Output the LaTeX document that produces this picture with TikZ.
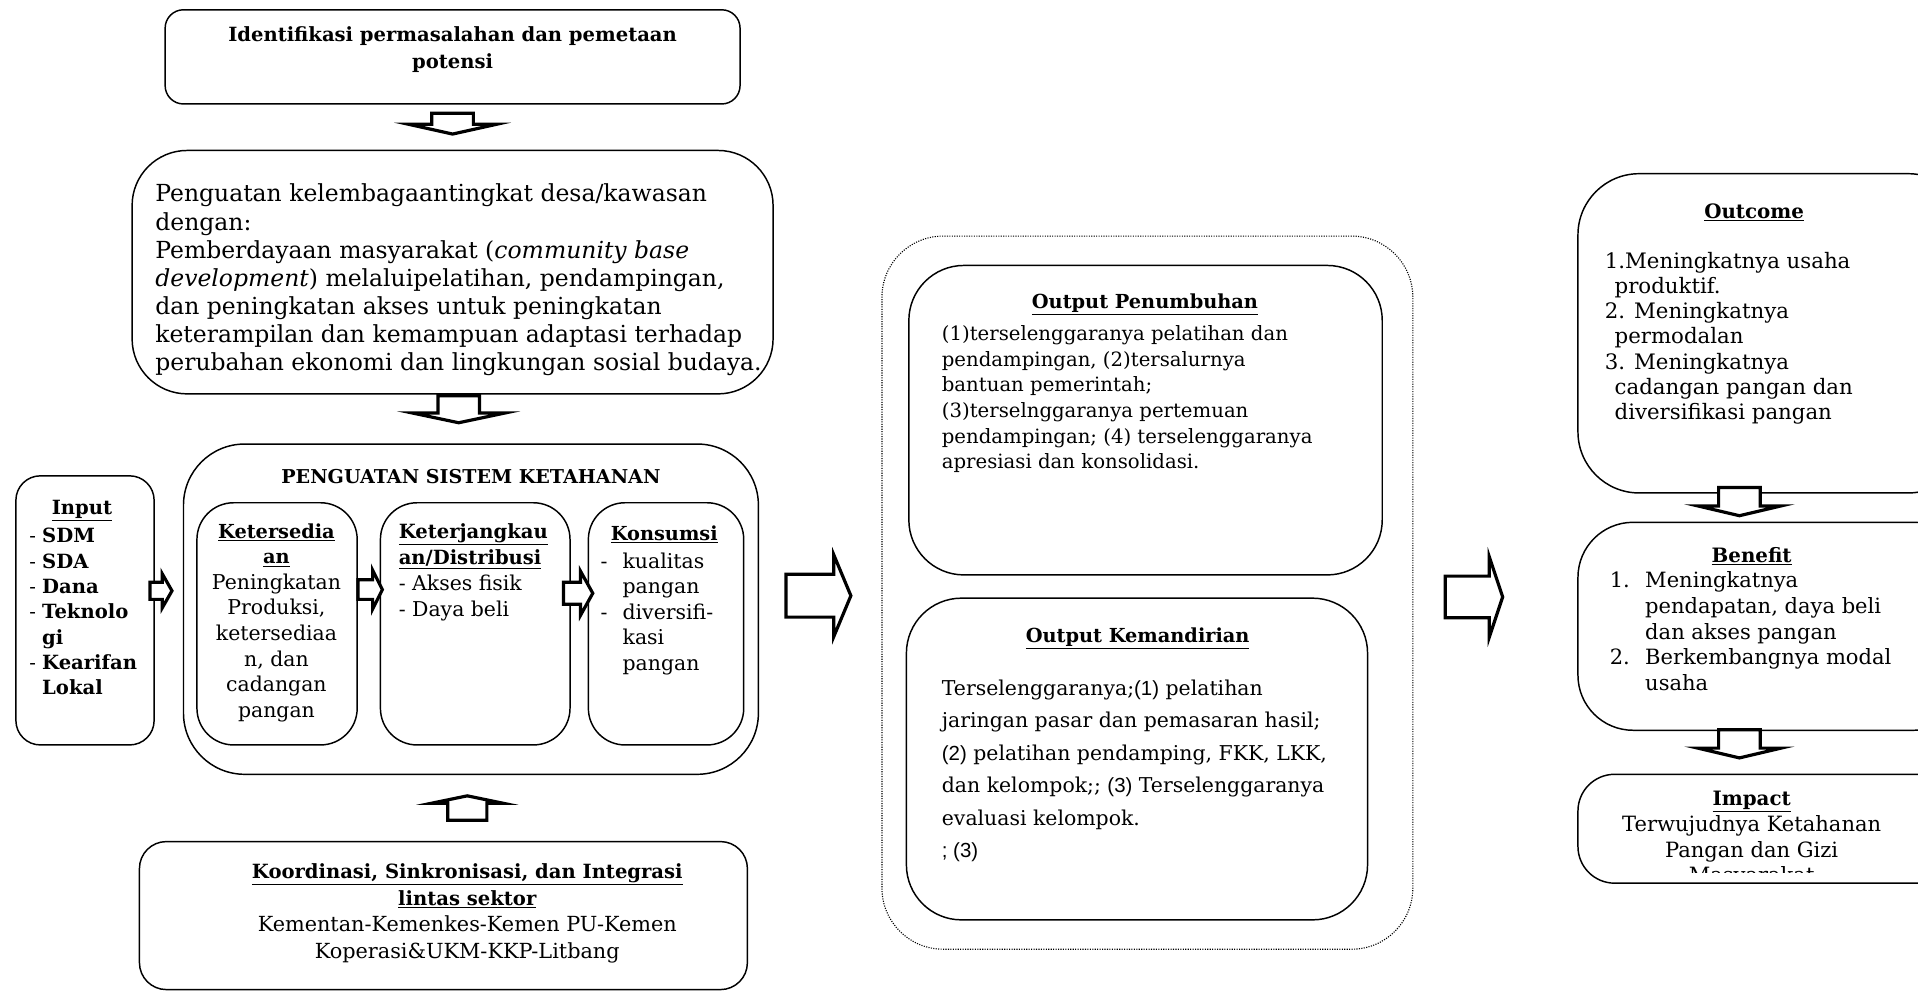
\documentclass[tikz,border=0pt]{standalone}
\usepackage{fontspec}
\setmainfont{DejaVu Serif}
\newfontfamily\sansx{Liberation Sans}
\usetikzlibrary{calc}
\newcommand\fsz[2]{\fontsize{#1}{#2}\selectfont}
\newcommand\ulb[1]{\textbf{\underline{#1}}}
% down block arrow: #1 top-centre coordinate, #2 stem half width, #3 stem height, #4 wing half width, #5 head height
\newcommand\darr[5]{\draw[blk] ([shift={({-#2},0)}]#1) -- ++(0,#3) -- ++({-(#4-#2)},0) -- ++(#4,#5) -- ++(#4,{-(#5)}) -- ++({-(#4-#2)},0) -- ++(0,{-(#3)}) -- cycle;}
% up block arrow: #1 tip coordinate
\newcommand\uarr[5]{\draw[blk] (#1) -- ++({-(#4)},#5) -- ++({#4-#2},0) -- ++(0,#3) -- ++({2*#2},0) -- ++(0,{-(#3)}) -- ++({#4-#2},0) -- cycle;}
% right block arrow: #1 left-centre coordinate, #2 stem half height, #3 stem length, #4 head half height, #5 head length
\newcommand\rarr[5]{\draw[blk] ([shift={(0,{-(#2)})}]#1) -- ++(#3,0) -- ++(0,{-(#4-#2)}) -- ++(#5,#4) -- ++({-(#5)},#4) -- ++(0,{-(#4-#2)}) -- ++({-(#3)},0) -- cycle;}
% box node from corners
\newcommand\boxat[7][]{\node[box,rounded corners=#7,minimum width={#5-#3},minimum height={#6-#4},#1] (#2) at ({(#3+#5)/2},{(#4+#6)/2}) {};}
\begin{document}
\begin{tikzpicture}[x=1pt,y=-1pt,
  box/.style={draw,line width=1.2pt,inner sep=0pt,fill=none},
  blk/.style={draw,line width=2.6pt,line join=miter,fill=white},
  txt/.style={inner sep=0pt,outer sep=0pt}]
\clip (0,0) rectangle (1568,811);
\fill[white] (0,0) rectangle (1568,811);

% ---------- boxes ----------
\boxat{ident}{135}{8}{605}{85}{15}
\boxat{peng}{108}{123}{632}{322}{45}
\boxat{sys}{150}{363}{620}{633}{50}
\boxat{input}{13}{389}{126}{609}{20}
\boxat{kers}{161}{411}{292}{609}{30}
\boxat{kj}{311}{411}{466}{609}{30}
\boxat{kon}{481}{411}{608}{609}{30}
\boxat{koord}{114}{688}{611}{809}{22}
\boxat[dash pattern=on 0.9pt off 1.1pt,line width=0.9pt]{wrap}{721}{193}{1155}{776}{50}
\boxat{pen}{743}{217}{1130}{470}{45}
\boxat{kem}{741}{489}{1118}{752}{45}
\boxat{outc}{1290}{142}{1610}{403}{50}
\boxat{ben}{1290}{427}{1610}{597}{45}
\boxat{imp}{1290}{633}{1610}{722}{30}

% ---------- texts ----------
\node[txt,anchor=north,align=center,font=\fsz{16}{22}\bfseries] (identT) at (370,22)
  {Identifikasi permasalahan dan pemetaan\\potensi};

\node[txt,anchor=north west,align=left,font=\fsz{19.2}{23}] (pengT) at (127,150.5)
  {Penguatan kelembagaantingkat desa/kawasan\\dengan:\\Pemberdayaan masyarakat (\textit{community base}\\\textit{development}) melaluipelatihan, pendampingan,\\dan peningkatan akses untuk peningkatan\\keterampilan dan kemampuan adaptasi terhadap\\perubahan ekonomi dan lingkungan sosial budaya.};

\node[txt,anchor=base,font=\fsz{15.6}{20}\bfseries] (sysT) at (385,395.5) {PENGUATAN SISTEM KETAHANAN};

\node[txt,anchor=base,font=\fsz{16}{20}] (inputT) at (67,420.5) {\ulb{Input}};
\node[txt,anchor=north west,align=left,font=\fsz{16}{20.7}] (inputL) at (24,432)
  {- \textbf{SDM}\\- \textbf{SDA}\\- \textbf{Dana}\\- \textbf{Teknolo}\\\phantom{-\ }\textbf{gi}\\- \textbf{Kearifan}\\\phantom{-\ }\textbf{Lokal}};

\node[txt,anchor=north,align=center,font=\fsz{16.7}{20.9}] (kersT) at (226,428)
  {{\fsz{15.8}{20.9}\ulb{Ketersedia}}\\{\fsz{15.8}{20.9}\ulb{an}}\\Peningkatan\\Produksi,\\ketersediaa\\n, dan\\cadangan\\pangan};

\node[txt,anchor=north west,align=left,font=\fsz{16.7}{21.3}] (kjT) at (326,428)
  {{\fsz{16}{21.3}\ulb{Keterjangkau}}\\{\fsz{16}{21.3}\ulb{an/Distribusi}}\\- Akses fisik\\- Daya beli};

\node[txt,anchor=base,font=\fsz{15.8}{20}] (konT) at (543,441.5) {\ulb{Konsumsi}};
\node[txt,anchor=north west,align=left,font=\fsz{16.7}{20.8}] (konL) at (491,452)
  {\makebox[18pt][l]{-}kualitas\\\hspace*{18pt}pangan\\\makebox[18pt][l]{-}diversifi-\\\hspace*{18pt}kasi\\\hspace*{18pt}pangan};

\node[txt,anchor=north,align=center,font=\fsz{17}{21.7}] (koordT) at (382,706)
  {{\fsz{16}{21.7}\ulb{Koordinasi, Sinkronisasi, dan Integrasi}}\\{\fsz{16}{21.7}\ulb{lintas sektor}}\\Kementan-Kemenkes-Kemen PU-Kemen\\Koperasi\&UKM-KKP-Litbang};

\node[txt,anchor=base,font=\fsz{15.8}{20}] (penT) at (936,252.5) {\ulb{Output Penumbuhan}};
\node[txt,anchor=north west,align=left,font=\fsz{16.1}{21}] (penL) at (770,266)
  {(1)terselenggaranya pelatihan dan\\pendampingan, (2)tersalurnya\\bantuan pemerintah;\\(3)terselnggaranya pertemuan\\pendampingan; (4) terselenggaranya\\apresiasi dan konsolidasi.};

\node[txt,anchor=base,font=\fsz{15.8}{20}] (kemT) at (930,525.5) {\ulb{Output Kemandirian}};
\node[txt,anchor=north west,align=left,font=\fsz{16.7}{26.6}] (kemL) at (770,555.7)
  {Terselenggaranya;{\sansx(1)} pelatihan\\jaringan pasar dan pemasaran hasil;\\{\sansx(2)} pelatihan pendamping, FKK, LKK,\\dan kelompok;; {\sansx(3)} Terselenggaranya\\evaluasi kelompok.\\{\sansx; (3)}};

\node[txt,anchor=base,font=\fsz{16.2}{20}] (outT) at (1434,178.5) {\ulb{Outcome}};
\node[txt,anchor=north west,align=left,font=\fsz{17.4}{20.5}] (outL) at (1312,206.5)
  {1.Meningkatnya usaha\\\hspace*{8pt}produktif.\\2. Meningkatnya\\\hspace*{8pt}permodalan\\3. Meningkatnya\\\hspace*{8pt}cadangan pangan dan\\\hspace*{8pt}diversifikasi pangan};

\node[txt,anchor=base,font=\fsz{16.2}{20}] (benT) at (1432,459.5) {\ulb{Benefit}};
\node[txt,anchor=north west,align=left,font=\fsz{17.2}{21}] (benL) at (1316,467.5)
  {\makebox[29pt][l]{1.}Meningkatnya\\\hspace*{29pt}pendapatan, daya beli\\\hspace*{29pt}dan akses pangan\\\makebox[29pt][l]{2.}Berkembangnya modal\\\hspace*{29pt}usaha};

\begin{scope}
\clip (1280,638) rectangle (1610,713);
\node[txt,anchor=north,align=center,font=\fsz{17.2}{21}] (impT) at (1432,647)
  {{\fsz{16.2}{21}\ulb{Impact}}\\Terwujudnya Ketahanan\\Pangan dan Gizi\\Masyarakat};
\end{scope}

% ---------- block arrows ----------
\coordinate (a1) at ($(ident.south)+(0,7)$);
\darr{a1}{17}{9}{36}{8}
\coordinate (a2) at ($(peng.south)+(5,1)$);
\darr{a2}{17}{14}{38}{8}
\coordinate (a3) at ($(input.east)+(-4,-16)$);
\rarr{a3}{7}{10}{14}{8}
\coordinate (a4) at ($(kers.east)+(0,-28)$);
\rarr{a4}{8}{12}{16}{8}
\coordinate (a5) at ($(kj.east)+(-6,-25)$);
\rarr{a5}{9}{14}{18}{10}
\coordinate (a6) at ($(sys.south)+(-3,17)$);
\uarr{a6}{16}{14}{29}{6}
\coordinate (b1) at ($(sys.east)+(22,-11)$);
\rarr{b1}{17.5}{39}{33.5}{14}
\coordinate (b2) at ($(wrap.east)+(26,3.5)$);
\rarr{b2}{17}{36}{33}{11}
\coordinate (c1) at ($(outc.south)+(-28,-5)$);
\darr{c1}{17}{15}{34}{8}
\coordinate (c2) at ($(ben.south)+(-28,-1)$);
\darr{c2}{17}{15}{34}{8}
\end{tikzpicture}
\end{document}
